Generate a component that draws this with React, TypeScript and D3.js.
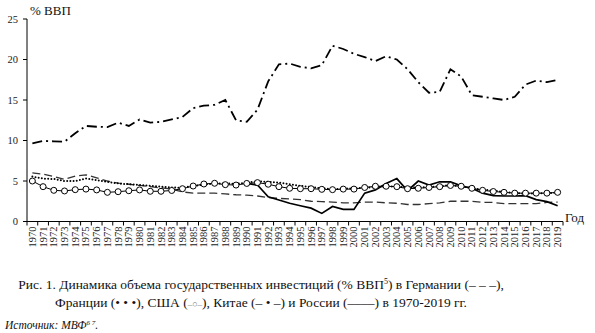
import React from "react";
import * as d3 from "d3";

const years: number[] = [];
for (let y = 1970; y <= 2019; y++) years.push(y);

const yTicks = [0, 5, 10, 15, 20, 25];

const china = [9.65, 9.95, 9.9, 9.85, 10.9, 11.8, 11.7, 11.65, 12.2, 11.8, 12.6, 12.2, 12.3, 12.6, 12.9, 14.0, 14.3, 14.4, 15.0, 12.5, 12.3, 13.8, 17.3, 19.4, 19.5, 19.1, 18.9, 19.3, 21.7, 21.3, 20.7, 20.3, 19.8, 20.4, 20.0, 18.8, 17.2, 15.9, 16.0, 18.8, 17.9, 15.6, 15.4, 15.2, 15.0, 15.4, 16.9, 17.4, 17.2, 17.5];
const germany = [6.0, 5.85, 5.55, 5.2, 5.6, 5.75, 5.4, 5.0, 4.75, 4.6, 4.45, 4.3, 4.15, 4.0, 3.65, 3.5, 3.5, 3.5, 3.4, 3.3, 3.25, 3.15, 2.95, 2.85, 2.8, 2.7, 2.5, 2.45, 2.4, 2.3, 2.3, 2.4, 2.4, 2.3, 2.25, 2.1, 2.1, 2.2, 2.3, 2.5, 2.5, 2.5, 2.35, 2.35, 2.2, 2.2, 2.2, 2.2, 2.35, 2.4];
const france = [5.55, 5.3, 5.25, 5.0, 5.0, 5.3, 5.1, 4.9, 4.7, 4.6, 4.5, 4.4, 4.3, 4.2, 4.15, 4.4, 4.55, 4.7, 4.7, 4.65, 4.8, 4.95, 4.9, 4.8, 4.6, 4.4, 4.25, 4.1, 4.0, 4.05, 4.1, 4.15, 4.25, 4.35, 4.3, 4.2, 4.2, 4.25, 4.35, 4.5, 4.35, 4.1, 3.95, 3.8, 3.65, 3.5, 3.45, 3.45, 3.5, 3.55];
const usa = [5.0, 4.3, 3.85, 3.77, 3.93, 4.0, 3.9, 3.6, 3.68, 3.8, 3.9, 3.73, 3.73, 3.83, 4.05, 4.38, 4.63, 4.72, 4.55, 4.5, 4.7, 4.8, 4.6, 4.3, 4.1, 4.05, 4.05, 3.97, 3.93, 4.0, 4.0, 4.2, 4.35, 4.35, 4.3, 4.05, 4.1, 4.2, 4.3, 4.45, 4.35, 4.1, 3.85, 3.7, 3.6, 3.5, 3.5, 3.5, 3.5, 3.6];
const russia: (number | null)[] = [null, null, null, null, null, null, null, null, null, null, null, null, null, null, null, null, null, null, null, null, 4.7, 4.5, 3.05, 2.65, 2.25, 1.95, 1.65, 1.0, 1.85, 1.5, 1.5, 3.5, 3.9, 4.7, 5.3, 3.8, 5.0, 4.5, 4.9, 4.9, 4.4, 4.1, 3.5, 3.2, 3.15, 3.15, 3.2, 2.7, 2.45, 1.95];

const FONT = "Liberation Serif, Times New Roman, DejaVu Serif, serif";

export default function App() {
  const W = 595, H = 333;
  const x = d3.scaleBand<number>().domain(years).range([27, 563]).paddingInner(0).paddingOuter(0);
  const bw = x.bandwidth();
  const cx = (yr: number) => (x(yr) as number) + bw / 2;
  const y = d3.scaleLinear().domain([0, 25]).range([221.5, 19]);

  const mk = (vals: (number | null)[]) =>
    d3.line<number>()
      .defined((_, i) => vals[i] !== null)
      .x((yr) => cx(yr))
      .y((_, i) => y(vals[i] as number))(years) || "";

  const boundaries = years.map((yr) => x(yr) as number).concat([563]);

  return (
    <svg width={W} height={H} style={{ position: "absolute", left: 0, top: 0, fontFamily: FONT }}>
      <rect width={W} height={H} fill="#fff" />
      {/* y axis */}
      <line x1={27} x2={27} y1={y(25)} y2={y(0)} stroke="#000" strokeWidth={1} />
      {yTicks.map((t) => (
        <g key={t}>
          <line x1={23} x2={27} y1={y(t)} y2={y(t)} stroke="#000" />
          <text x={18} y={y(t) + 3.5} fontSize={10.5} textAnchor="end" fill="#222" style={{ fontFamily: FONT }}>{t}</text>
        </g>
      ))}
      {/* x axis */}
      <line x1={27} x2={563} y1={y(0)} y2={y(0)} stroke="#000" />
      {boundaries.map((b, i) => (
        <line key={i} x1={b} x2={b} y1={y(0)} y2={y(0) + 4} stroke="#000" />
      ))}
      {years.map((yr) => (
        <text key={yr} transform={`translate(${cx(yr) + 3.5},${y(0) + 5}) rotate(-90)`} fontSize={10.5} textAnchor="end" fill="#222" style={{ fontFamily: FONT }}>{yr}</text>
      ))}
      <text x={30} y={15} fontSize={13} fill="#111" style={{ fontFamily: FONT }}>% ВВП</text>
      <text x={565} y={222} fontSize={13} fill="#111" style={{ fontFamily: FONT }}>Год</text>

      {/* series */}
      <path d={mk(germany)} fill="none" stroke="#333" strokeWidth={1.3} strokeDasharray="8,4" />
      <path d={mk(china)} fill="none" stroke="#000" strokeWidth={1.8} strokeDasharray="10,4,2,4" />
      <path d={mk(russia)} fill="none" stroke="#000" strokeWidth={1.7} />
      <path d={mk(usa)} fill="none" stroke="#000" strokeWidth={1} />
      <path d={mk(france)} fill="none" stroke="#000" strokeWidth={2} strokeDasharray="0,3.2" strokeLinecap="round" />
      {years.map((yr, i) => (
        <circle key={yr} cx={cx(yr)} cy={y(usa[i])} r={3} fill="#fff" stroke="#000" strokeWidth={1} />
      ))}

      {/* caption */}
      <text x={261} y={289} fontSize={13.5} textAnchor="middle" fill="#111" style={{ fontFamily: FONT }}>
        Рис. 1. Динамика объема государственных инвестиций (% ВВП<tspan fontSize={8} dy={-5}>5</tspan><tspan dy={5}>) в Германии (– – –),</tspan>
      </text>
      <text x={261} y={307} fontSize={13.5} textAnchor="middle" fill="#111" style={{ fontFamily: FONT }}>
        Франции (• • •), США (<tspan fill="#777" fontSize={9}>–○–</tspan>), Китае (– • –) и России (––––) в 1970-2019 гг.
      </text>
      <text x={5} y={329} fontSize={11.5} fontStyle="italic" fill="#111" style={{ fontFamily: FONT }}>
        Источник: МВФ<tspan fontSize={7} dy={-4}>6</tspan><tspan fontSize={7}> 7</tspan><tspan dy={4}>.</tspan>
      </text>
    </svg>
  );
}
